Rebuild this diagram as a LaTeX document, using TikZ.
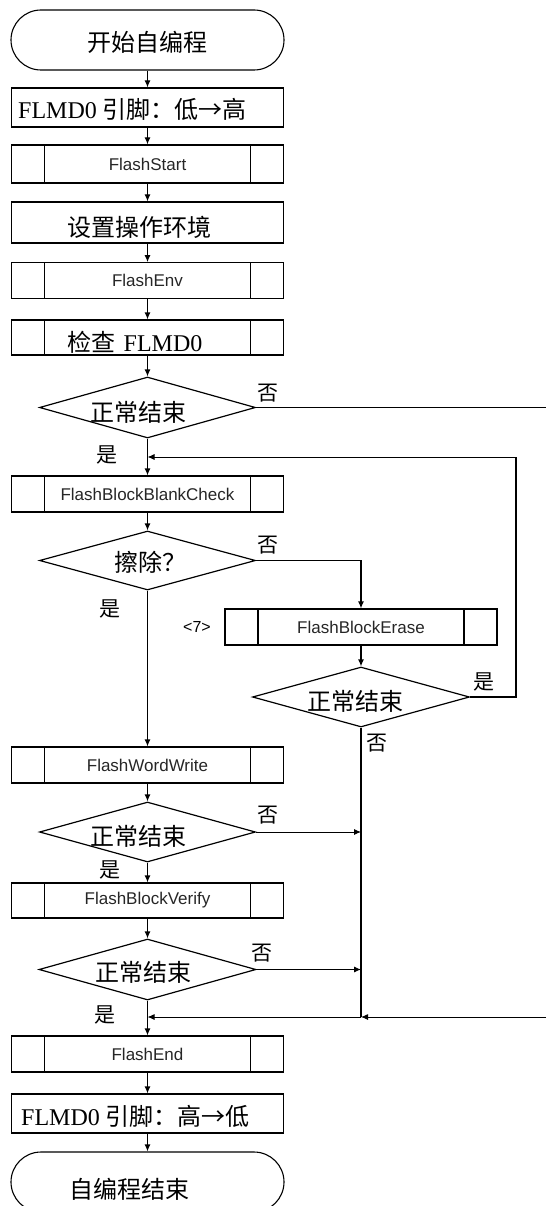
\documentclass[tikz,border=0pt]{standalone}
\usepackage{fontspec}
\newfontfamily\cjk{Noto Sans CJK SC}
\newfontfamily\ser{Liberation Serif}
\newfontfamily\arial{Liberation Sans}
\usetikzlibrary{arrows.meta,shapes.geometric,calc}
\begin{document}
\begin{tikzpicture}[x=1pt,y=-1pt,
  proc/.style={draw, line width=1.2pt, rectangle, minimum width=272pt, inner sep=0pt},
  fn/.style={font=\arial\fontsize{17}{20}\selectfont, text=black!85},
  sub/.style={proc, fn, path picture={
     \draw[line width=1.2pt] ([xshift=33pt]path picture bounding box.north west) -- ([xshift=33pt]path picture bounding box.south west)
           ([xshift=-33pt]path picture bounding box.north east) -- ([xshift=-33pt]path picture bounding box.south east);}},
  term/.style={draw, line width=1.1pt, rounded corners=30pt, minimum width=273pt, minimum height=60pt, inner sep=0pt},
  dec/.style={draw, line width=1.2pt, diamond, shape aspect=3.5, inner sep=0pt},
  zh/.style={font=\cjk\fontsize{24}{28}\selectfont, inner sep=0pt},
  mix/.style={font=\ser\fontsize{24}{28}\selectfont, inner sep=0pt},
  lab/.style={font=\cjk\fontsize{21}{24}\selectfont, inner sep=0pt},
  ln/.style={line width=1.2pt},
  arr/.style={line width=1.2pt, -{Latex[length=7pt,width=6pt]}},
  thinarr/.style={line width=0.9pt, -{Latex[length=7pt,width=6pt]}},
  thinln/.style={line width=0.9pt}
]
\useasboundingbox (0,0) rectangle (546,1206);
\clip (0,0) rectangle (546,1206);

% left column
\node[term] (start) at (147.5,40) {};
\node[zh] (startt) at (147.5,42) {开始自编程};
\node[proc, minimum height=39pt] (b1) at (147.5,107.5) {};
\node[mix, anchor=west] (b1t) at (18,109) {FLMD0 {\cjk 引脚：低→高}};
\node[sub, minimum height=38pt] (fs) at (147.5,164) {FlashStart};
\node[proc, minimum height=41pt] (env) at (147.5,222.5) {};
\node[zh] (envt) at (139,227) {设置操作环境};
\node[sub, minimum height=35.5pt] (fenv) at (147.5,280.5) {FlashEnv};
\node[sub, minimum height=35pt] (chk) at (147.5,337.5) {};
\node[mix] (chkt) at (135,342) {{\cjk 检查}\hspace{8pt}FLMD0};
\node[dec, minimum width=216pt, minimum height=61pt] (d1) at (147.5,407.5) {};
\node[zh] (d1t) at (138,412) {正常结束};
\node[sub, minimum height=36pt] (bbc) at (147.5,494) {FlashBlockBlankCheck};
\node[dec, minimum width=216pt, minimum height=59pt] (d2) at (147.5,560.5) {};
\node[zh] (d2t) at (150,562) {擦除？};
\node[sub, minimum height=36pt] (fww) at (147.5,765) {FlashWordWrite};
\node[dec, minimum width=216pt, minimum height=60pt] (d4) at (147.5,832) {};
\node[zh] (d4t) at (138,836) {正常结束};
\node[sub, minimum height=35pt] (fbv) at (147.5,900.5) {FlashBlockVerify};
\node[dec, minimum width=217pt, minimum height=61pt] (d5) at (147.5,969.5) {};
\node[zh] (d5t) at (143,972) {正常结束};
\node[sub, minimum height=36pt] (fend) at (147.5,1054) {FlashEnd};
\node[proc, minimum height=39pt] (b2) at (147.5,1113.5) {};
\node[mix, anchor=west] (b2t) at (21,1116) {FLMD0 {\cjk 引脚：高→低}};
\node[term] (end) at (147.5,1182) {};
\node[zh] (endt) at (129,1189) {自编程结束};

% right column
\node[sub, minimum height=36pt] (erase) at (361,627) {FlashBlockErase};
\node[font=\arial\fontsize{16}{19}\selectfont, inner sep=0pt] (n7) at (197,627) {<7>};
\node[dec, minimum width=217pt, minimum height=60pt] (d3) at (361,697) {};
\node[zh] (d3t) at (355,701) {正常结束};

% labels
\node[lab] (l1) at (268,393) {否};
\node[lab] (l2) at (107,455) {是};
\node[lab] (l3) at (268,545) {否};
\node[lab] (l4) at (110,609) {是};
\node[lab] (l5) at (484,682) {是};
\node[lab] (l6) at (377,743) {否};
\node[lab] (l7) at (268,815) {否};
\node[lab] (l8) at (110,870) {是};
\node[lab] (l9) at (262,953) {否};
\node[lab] (l10) at (105,1015) {是};

% coordinates
\coordinate (r1) at (546,407.5);
\coordinate (loopR) at (516,457);
\coordinate (j1) at (147.5,457);
\coordinate (j2) at (361,1017);
\coordinate (j3) at (147.5,1017);
\coordinate (r2) at (546,1017);

% connectors
\draw[arr] (start) -- (b1);
\draw[arr] (b1) -- (fs);
\draw[arr] (fs) -- (env);
\draw[arr] (env) -- (fenv);
\draw[arr] (fenv) -- (chk);
\draw[arr] (chk) -- (d1);
\draw[ln] (d1.east) -- (r1);
\draw[arr] (d1) -- (bbc);
\draw[ln] (d3.east) -| (loopR);
\draw[thinarr] (loopR) -- (j1);
\draw[arr] (bbc) -- (d2);
\draw[arr] (d2.east) -| (erase.north);
\draw[arr] (d2) -- (fww);
\draw[arr] (erase) -- (d3);
\draw[ln] (d3.south) -- (j2);
\draw[arr] (fww) -- (d4);
\draw[thinarr] (d4.east) -- (d4.east -| j2);
\draw[arr] (d4) -- (fbv);
\draw[arr] (fbv) -- (d5);
\draw[thinarr] (d5.east) -- (d5.east -| j2);
\draw[thinarr] (r2) -- (j2);
\draw[thinarr] (j2) -- (j3);
\draw[arr] (d5) -- (fend);
\draw[arr] (fend) -- (b2);
\draw[arr] (b2) -- (end);
\end{tikzpicture}
\end{document}
